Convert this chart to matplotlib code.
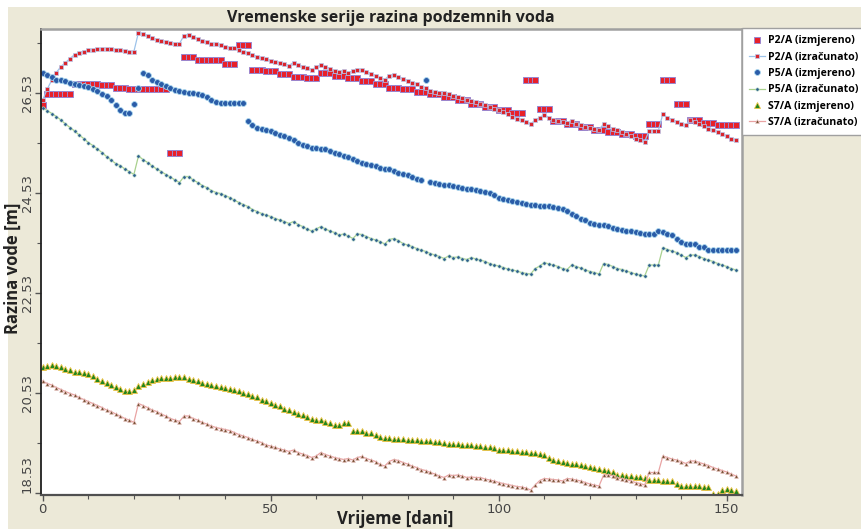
import matplotlib.pyplot as plt
from matplotlib.patches import Rectangle
from matplotlib.ticker import MultipleLocator, FixedLocator

# dani mjerenja
dani = list(range(153))

# P2/A
p2_izmjereno = [
    26.29, 26.52, 26.52, 26.52, 26.52, 26.52, 26.52, 26.72, 26.72, 26.72,
    26.72, 26.72, 26.72, 26.69, 26.69, 26.69, 26.64, 26.64, 26.64, 26.62,
    26.62, 26.62, 26.62, 26.62, 26.62, 26.62, 26.62, 26.62, 25.33, 25.33,
    25.33, 27.26, 27.26, 27.26, 27.20, 27.20, 27.20, 27.20, 27.20, 27.20,
    27.11, 27.11, 27.11, 27.50, 27.50, 27.50, 27.00, 27.00, 27.00, 26.97,
    26.97, 26.97, 26.91, 26.91, 26.91, 26.86, 26.86, 26.86, 26.83, 26.83,
    26.83, 26.93, 26.93, 26.93, 26.88, 26.88, 26.88, 26.83, 26.83, 26.83,
    26.78, 26.78, 26.78, 26.71, 26.71, 26.71, 26.64, 26.64, 26.64, 26.62,
    26.62, 26.62, 26.56, 26.56, 26.56, 26.51, 26.51, 26.51, 26.46, 26.46,
    26.46, 26.39, 26.39, 26.39, 26.32, 26.32, 26.32, 26.25, 26.25, 26.25,
    26.20, 26.20, 26.20, 26.14, 26.14, 26.14, 26.80, 26.80, 26.80, 26.21,
    26.21, 26.21, 25.97, 25.97, 25.97, 25.91, 25.91, 25.91, 25.86, 25.86,
    25.86, 25.80, 25.80, 25.80, 25.76, 25.76, 25.76, 25.72, 25.72, 25.72,
    25.67, 25.67, 25.67, 25.91, 25.91, 25.91, 26.80, 26.80, 26.80, 26.32,
    26.32, 26.32, 25.99, 25.99, 25.99, 25.94, 25.94, 25.94, 25.89, 25.89,
    25.89, 25.89, 25.89]
p2_izracunato = [
    26.39, 26.61, 26.79, 26.94, 27.06, 27.14, 27.22, 27.30, 27.34, 27.36,
    27.39, 27.40, 27.41, 27.42, 27.42, 27.41, 27.40, 27.39, 27.37, 27.36,
    27.36, 27.74, 27.71, 27.68, 27.64, 27.60, 27.57, 27.56, 27.54, 27.52,
    27.52, 27.68, 27.70, 27.66, 27.61, 27.58, 27.55, 27.52, 27.51, 27.49,
    27.46, 27.44, 27.43, 27.40, 27.36, 27.33, 27.30, 27.26, 27.23, 27.21,
    27.18, 27.16, 27.13, 27.11, 27.08, 27.14, 27.10, 27.06, 27.03, 27.00,
    27.05, 27.10, 27.06, 27.02, 26.98, 26.96, 26.98, 26.94, 26.97, 27.00,
    27.00, 26.96, 26.92, 26.88, 26.83, 26.80, 26.88, 26.90, 26.85, 26.82,
    26.78, 26.74, 26.71, 26.66, 26.63, 26.58, 26.55, 26.54, 26.53, 26.51,
    26.47, 26.45, 26.44, 26.40, 26.38, 26.36, 26.32, 26.29, 26.26, 26.22,
    26.19, 26.15, 26.12, 26.06, 26.02, 25.99, 25.96, 25.91, 25.99, 26.04,
    26.10, 26.04, 26.00, 25.97, 25.96, 25.94, 25.98, 25.92, 25.89, 25.86,
    25.84, 25.82, 25.80, 25.91, 25.87, 25.82, 25.79, 25.76, 25.72, 25.67,
    25.62, 25.59, 25.56, 25.78, 25.78, 25.78, 26.11, 26.04, 26.00, 25.96,
    25.92, 25.89, 25.99, 25.96, 25.91, 25.87, 25.82, 25.79, 25.76, 25.71,
    25.67, 25.62, 25.59]

# P5/A
p5_izmjereno = [
    26.94, 26.90, 26.86, 26.80, 26.79, 26.77, 26.74, 26.72, 26.70, 26.68,
    26.66, 26.62, 26.58, 26.52, 26.47, 26.39, 26.29, 26.20, 26.14, 26.14,
    26.32, 26.64, 26.94, 26.89, 26.80, 26.76, 26.72, 26.67, 26.63, 26.60,
    26.58, 26.55, 26.54, 26.54, 26.52, 26.50, 26.46, 26.40, 26.36, 26.34,
    26.34, 26.34, 26.34, 26.34, 26.34, 25.98, 25.89, 25.84, 25.81, 25.79,
    25.77, 25.74, 25.70, 25.67, 25.64, 25.59, 25.54, 25.50, 25.47, 25.44,
    25.44, 25.42, 25.41, 25.37, 25.33, 25.32, 25.27, 25.26, 25.21, 25.18,
    25.14, 25.11, 25.09, 25.07, 25.04, 25.02, 25.02, 24.98, 24.94, 24.91,
    24.89, 24.86, 24.82, 24.80, 26.79, 24.76, 24.74, 24.72, 24.70, 24.69,
    24.67, 24.66, 24.64, 24.62, 24.62, 24.60, 24.58, 24.56, 24.54, 24.49,
    24.44, 24.41, 24.39, 24.37, 24.36, 24.34, 24.32, 24.30, 24.29, 24.28,
    24.28, 24.27, 24.26, 24.24, 24.22, 24.18, 24.12, 24.07, 24.02, 23.99,
    23.94, 23.91, 23.89, 23.90, 23.88, 23.84, 23.82, 23.80, 23.78, 23.77,
    23.76, 23.74, 23.72, 23.72, 23.71, 23.78, 23.76, 23.72, 23.69, 23.62,
    23.56, 23.52, 23.52, 23.52, 23.46, 23.45, 23.40, 23.39, 23.39, 23.39,
    23.39, 23.39, 23.39]
p5_izracunato = [
    26.24, 26.18, 26.12, 26.06, 25.99, 25.91, 25.84, 25.77, 25.69, 25.62,
    25.54, 25.48, 25.41, 25.34, 25.26, 25.19, 25.12, 25.08, 25.01, 24.96,
    24.90, 25.27, 25.20, 25.14, 25.07, 25.01, 24.96, 24.90, 24.85, 24.79,
    24.74, 24.86, 24.86, 24.79, 24.74, 24.68, 24.64, 24.58, 24.54, 24.52,
    24.48, 24.44, 24.39, 24.34, 24.30, 24.26, 24.20, 24.16, 24.12, 24.09,
    24.06, 24.02, 23.99, 23.96, 23.92, 23.96, 23.90, 23.86, 23.81, 23.77,
    23.81, 23.86, 23.81, 23.77, 23.74, 23.69, 23.71, 23.67, 23.62, 23.71,
    23.70, 23.66, 23.62, 23.59, 23.56, 23.51, 23.60, 23.62, 23.58, 23.52,
    23.49, 23.46, 23.42, 23.39, 23.36, 23.32, 23.29, 23.26, 23.22, 23.27,
    23.24, 23.25, 23.22, 23.20, 23.24, 23.21, 23.19, 23.16, 23.12, 23.09,
    23.07, 23.04, 23.01, 22.99, 22.97, 22.94, 22.92, 22.91, 23.02, 23.07,
    23.14, 23.11, 23.09, 23.06, 23.02, 23.00, 23.09, 23.06, 23.03, 22.99,
    22.96, 22.94, 22.91, 23.12, 23.10, 23.06, 23.02, 23.00, 22.97, 22.94,
    22.91, 22.89, 22.87, 23.09, 23.09, 23.09, 23.44, 23.40, 23.37, 23.34,
    23.29, 23.24, 23.29, 23.29, 23.26, 23.22, 23.19, 23.16, 23.12, 23.09,
    23.06, 23.02, 22.99]

# S7/A
s7_izmjereno = [
    21.06, 21.08, 21.09, 21.08, 21.06, 21.02, 20.99, 20.96, 20.96, 20.94,
    20.91, 20.87, 20.82, 20.78, 20.74, 20.69, 20.66, 20.62, 20.58, 20.58,
    20.59, 20.67, 20.72, 20.76, 20.80, 20.82, 20.84, 20.84, 20.84, 20.86,
    20.86, 20.86, 20.82, 20.80, 20.78, 20.74, 20.72, 20.69, 20.68, 20.66,
    20.64, 20.62, 20.60, 20.58, 20.54, 20.51, 20.48, 20.44, 20.40, 20.37,
    20.34, 20.30, 20.28, 20.22, 20.19, 20.16, 20.12, 20.09, 20.06, 20.02,
    20.00, 19.99, 19.96, 19.92, 19.89, 19.89, 19.92, 19.92, 19.78, 19.78,
    19.76, 19.74, 19.73, 19.69, 19.66, 19.64, 19.64, 19.62, 19.61, 19.60,
    19.59, 19.59, 19.59, 19.58, 19.58, 19.57, 19.56, 19.56, 19.54, 19.52,
    19.52, 19.51, 19.50, 19.49, 19.49, 19.48, 19.48, 19.46, 19.44, 19.42,
    19.40, 19.39, 19.39, 19.38, 19.38, 19.36, 19.36, 19.34, 19.34, 19.32,
    19.29, 19.24, 19.20, 19.18, 19.16, 19.14, 19.12, 19.11, 19.09, 19.07,
    19.06, 19.04, 19.02, 19.00, 18.98, 18.94, 18.89, 18.89, 18.88, 18.87,
    18.86, 18.86, 18.84, 18.80, 18.79, 18.79, 18.78, 18.78, 18.76, 18.72,
    18.67, 18.67, 18.67, 18.67, 18.67, 18.66, 18.66, 18.52, 18.52, 18.59,
    18.60, 18.59, 18.58]
s7_izracunato = [
    20.77, 20.72, 20.69, 20.64, 20.60, 20.56, 20.52, 20.49, 20.44, 20.40,
    20.36, 20.32, 20.28, 20.24, 20.19, 20.16, 20.11, 20.07, 20.02, 19.99,
    19.94, 20.32, 20.28, 20.24, 20.19, 20.16, 20.11, 20.07, 20.02, 19.99,
    19.96, 20.07, 20.07, 20.02, 19.99, 19.94, 19.91, 19.87, 19.84, 19.82,
    19.80, 19.78, 19.74, 19.70, 19.67, 19.64, 19.60, 19.57, 19.54, 19.49,
    19.47, 19.44, 19.41, 19.39, 19.36, 19.39, 19.34, 19.31, 19.28, 19.24,
    19.27, 19.34, 19.30, 19.27, 19.24, 19.22, 19.20, 19.22, 19.19, 19.24,
    19.26, 19.22, 19.19, 19.16, 19.10, 19.07, 19.16, 19.20, 19.18, 19.14,
    19.11, 19.07, 19.04, 19.00, 18.98, 18.94, 18.91, 18.87, 18.84, 18.89,
    18.88, 18.89, 18.87, 18.84, 18.85, 18.84, 18.84, 18.81, 18.79, 18.77,
    18.74, 18.72, 18.70, 18.68, 18.66, 18.65, 18.63, 18.59, 18.69, 18.78,
    18.82, 18.81, 18.80, 18.79, 18.77, 18.82, 18.81, 18.79, 18.77, 18.74,
    18.71, 18.69, 18.67, 18.89, 18.89, 18.88, 18.84, 18.82, 18.80, 18.77,
    18.74, 18.72, 18.69, 18.94, 18.94, 18.94, 19.27, 19.24, 19.21, 19.19,
    19.16, 19.12, 19.17, 19.17, 19.14, 19.11, 19.08, 19.04, 19.01, 18.98,
    18.95, 18.91, 18.87]

y_oznake = [18.53, 20.53, 22.53, 24.53, 26.53]
x_oznake = [0, 50, 100, 150]

fig = plt.figure(figsize=(8.62, 5.29), dpi=100, facecolor='white')
# bez siva okvira, kao u izvorniku (bijeli rub gore i lijevo)
fig.patches.append(Rectangle((8 / 862, 0), 1, 1 - 7 / 529, transform=fig.transFigure,
                             facecolor='#ECE9D8', edgecolor='none', zorder=-1))

ax = fig.add_axes([41 / 862, 1 - 495 / 529, 701 / 862, 466 / 529])
ax.set_facecolor('white')

ax.plot(dani, p2_izmjereno, linestyle='none', marker='s', markersize=4.6,
        markerfacecolor='#E8202A', markeredgecolor='#9A86CF', markeredgewidth=0.7,
        label='P2/A (izmjereno)')
ax.plot(dani, p2_izracunato, color='#9DC3EA', linewidth=0.9, marker='s', markersize=2.6,
        markerfacecolor='#D8262E', markeredgecolor='#B9CBEF', markeredgewidth=0.5,
        label='P2/A (izračunato)')
ax.plot(dani, p5_izmjereno, linestyle='none', marker='o', markersize=4.2,
        markerfacecolor='#2A5CA8', markeredgecolor='#A9D6EE', markeredgewidth=0.6,
        label='P5/A (izmjereno)')
ax.plot(dani, p5_izracunato, color='#A9D18E', linewidth=0.9, marker='o', markersize=2.4,
        markerfacecolor='#2E5E8E', markeredgecolor='#BFE3C8', markeredgewidth=0.4,
        label='P5/A (izračunato)')
ax.plot(dani, s7_izmjereno, linestyle='none', marker='^', markersize=4.8,
        markerfacecolor='#23851F', markeredgecolor='#F2C548', markeredgewidth=0.6,
        label='S7/A (izmjereno)')
ax.plot(dani, s7_izracunato, color='#E9A3A3', linewidth=0.9, marker='^', markersize=2.8,
        markerfacecolor='#7A5538', markeredgecolor='#F1C9C9', markeredgewidth=0.4,
        label='S7/A (izračunato)')

ax.set_xlim(-0.37, 153.35)
ax.set_ylim(18.49, 27.81)

ax.xaxis.set_major_locator(FixedLocator(x_oznake))
ax.xaxis.set_minor_locator(MultipleLocator(10))
ax.yaxis.set_major_locator(FixedLocator(y_oznake))
ax.yaxis.set_minor_locator(FixedLocator([19.53, 21.53, 23.53, 25.53, 27.53]))
ax.set_xticklabels([str(v) for v in x_oznake])
ax.set_yticklabels(['%.2f' % v for v in y_oznake], rotation=90, va='center')
# najdonja oznaka pomaknuta prema gore da ne izlazi ispod osi
ax.get_yticklabels()[0].set_va('bottom')

ax.tick_params(which='both', direction='out', colors='#555555', labelcolor='#444444',
               labelsize=9.5)
ax.tick_params(which='major', length=4, width=1)
ax.tick_params(which='minor', length=3, width=0.8)
ax.tick_params(axis='x', pad=2)
ax.tick_params(axis='y', pad=1)

ax.spines['left'].set_color('#202020')
ax.spines['left'].set_linewidth(1.3)
ax.spines['bottom'].set_color('#505050')
ax.spines['bottom'].set_linewidth(1.6)
ax.spines['top'].set_color('#A0A0A0')
ax.spines['top'].set_linewidth(1.8)
ax.spines['right'].set_color('#A0A0A0')
ax.spines['right'].set_linewidth(1.8)

fig.text(391 / 862, 1 - 18 / 529, 'Vremenske serije razina podzemnih voda',
         ha='center', va='center', fontsize=11.5, fontweight='bold',
         family='Open Sans', color='#222222')
fig.text(395 / 862, 1 - 519 / 529, 'Vrijeme [dani]', ha='center', va='center',
         fontsize=12, fontweight='bold', family='Open Sans', color='#222222')
fig.text(13 / 862, 1 - 268 / 529, 'Razina vode [m]', ha='center', va='center',
         rotation=90, fontsize=12, fontweight='bold', family='Open Sans', color='#222222')

leg = ax.legend(loc='upper left', bbox_to_anchor=(742 / 862, 1 - 28 / 529),
                bbox_transform=fig.transFigure, borderaxespad=0, fancybox=False,
                framealpha=1, edgecolor='#A0A0A0', handlelength=1.5, handletextpad=0.25,
                labelspacing=0.5, borderpad=0.7,
                prop={'family': 'Open Sans', 'weight': 'bold', 'size': 7.6})
leg.get_frame().set_linewidth(1)

fig.savefig('out.png', dpi=100, facecolor=fig.get_facecolor())
